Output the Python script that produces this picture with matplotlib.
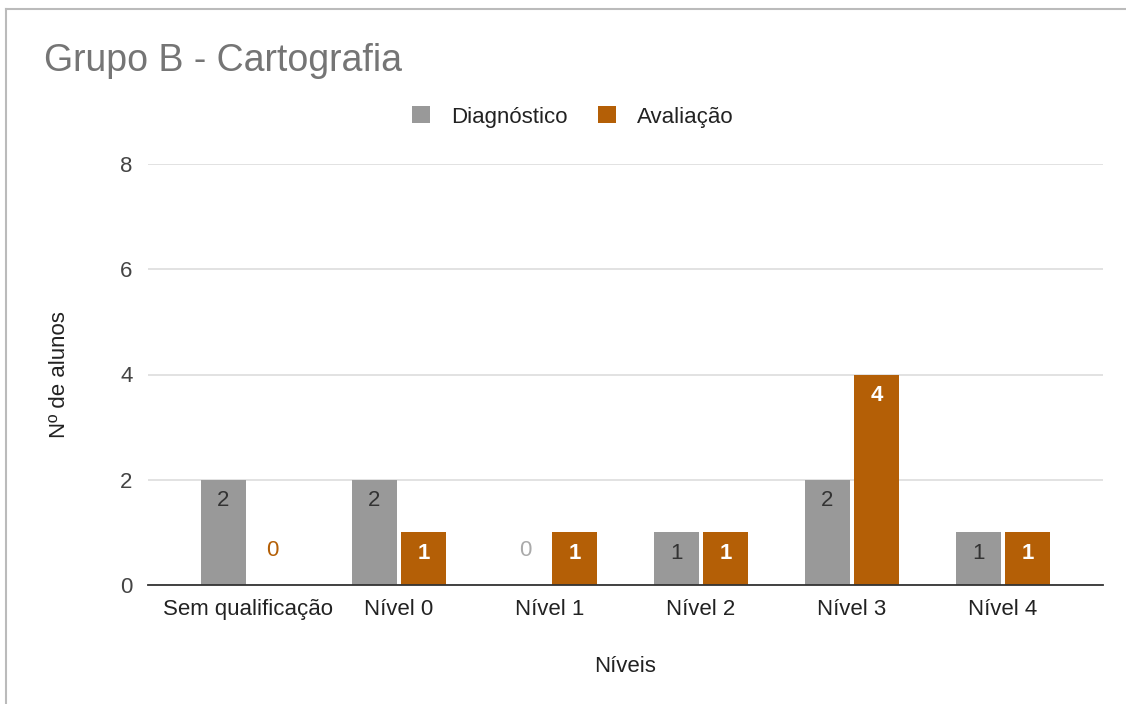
import matplotlib
matplotlib.use("Agg")
import matplotlib.pyplot as plt
from matplotlib.lines import Line2D
import numpy as np

plt.rcParams['font.family'] = ['Liberation Sans', 'DejaVu Sans']

categories = ["Sem qualificação", "Nível 0", "Nível 1", "Nível 2", "Nível 3", "Nível 4"]
diagnostico = [2, 2, 0, 1, 2, 1]
avaliacao = [0, 1, 1, 1, 4, 1]
series_names = ["Diagnóstico", "Avaliação"]
yticks = [0, 2, 4, 6, 8]

GRAY = "#999999"
ORANGE = "#b45f06"
FS = 16

fig = plt.figure(figsize=(11.26, 7.04), dpi=100)
ax = fig.add_axes([148/1126, 1-585/704, (1103-148)/1126, (585-164)/704])

x = np.arange(len(categories))
w = 0.298
off = 0.163
b1 = ax.bar(x - off, diagnostico, w, color=GRAY, label=series_names[0], zorder=3)
b2 = ax.bar(x + off, avaliacao, w, color=ORANGE, label=series_names[1], zorder=3)

for bars, vals, incol, zcol, weight in [(b1, diagnostico, "#333333", "#aaaaaa", "normal"),
                                        (b2, avaliacao, "white", ORANGE, "bold")]:
    for rect, v in zip(bars, vals):
        cx = rect.get_x() + rect.get_width()/2
        if v == 0:
            ax.annotate(str(v), (cx, 0), xytext=(0, 25), textcoords="offset points",
                        ha="center", va="center", fontsize=FS, color=zcol)
        else:
            ax.annotate(str(v), (cx, v), xytext=(0, -15), textcoords="offset points",
                        ha="center", va="center", fontsize=FS, color=incol, fontweight=weight,
                        zorder=4)

ax.set_xlim(-0.663, len(categories) - 1 + 0.663)
ax.set_ylim(0, 8)
ax.set_yticks(yticks)
ax.set_yticklabels([str(t) for t in yticks], fontsize=FS, color="#444444")
ax.set_xticks(x)
ax.set_xticklabels(categories, fontsize=FS, color="#222222")
ax.tick_params(axis="both", length=0)
ax.tick_params(axis="y", pad=11)
ax.tick_params(axis="x", pad=10)
ax.grid(axis="y", color="#dddddd", linewidth=1.2, zorder=0)
for s in ["top", "right", "left"]:
    ax.spines[s].set_visible(False)
ax.spines["bottom"].set_color("#333333")
ax.spines["bottom"].set_linewidth(1.3)
ax.spines["bottom"].set_zorder(5)

ax.set_ylabel("Nº de alunos", fontsize=FS, color="#222222", labelpad=36)
ax.set_xlabel("Níveis", fontsize=FS, color="#222222", labelpad=26)

fig.text(44/1126, 1-61/704, "Grupo B - Cartografia", fontsize=27, color="#757575",
         ha="left", va="center")

leg = fig.legend(handles=[b1, b2], labels=series_names, loc="center",
                 bbox_to_anchor=(573/1126, 1-117/704), ncol=2, frameon=False,
                 fontsize=FS, handlelength=0.8, handleheight=0.8, handletextpad=0.95,
                 columnspacing=1.4)
for t in leg.get_texts():
    t.set_color("#222222")

fig.add_artist(Line2D([5.5/1126, 1], [1-9/704, 1-9/704], transform=fig.transFigure,
                      color="#bbbbbb", linewidth=1.5))
fig.add_artist(Line2D([5.5/1126, 5.5/1126], [0, 1-9/704], transform=fig.transFigure,
                      color="#bbbbbb", linewidth=1.5))

fig.savefig("out.png", dpi=100, facecolor="white")
